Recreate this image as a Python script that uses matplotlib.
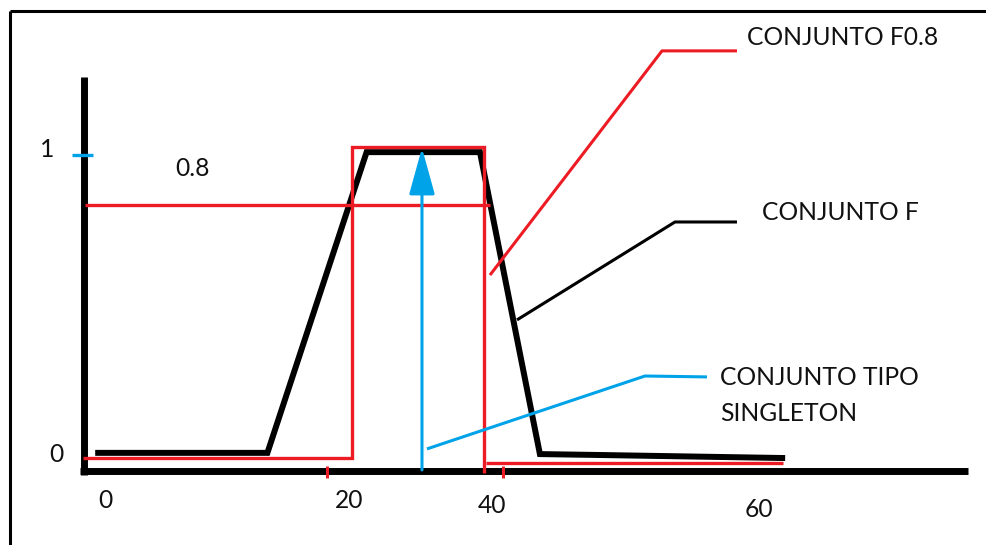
import matplotlib
matplotlib.use("Agg")
import matplotlib.pyplot as plt
from matplotlib.lines import Line2D

# ---- data (universe value u, membership mu) ----
# Fuzzy set F (trapezoid, hand drawn)
f_x = [-0.9, 14.9, 24.0, 34.4, 39.9, 45.4, 62.4]
f_mu = [0.007, 0.007, 0.993, 0.993, 0.003, 0.0, -0.010]

# Crisp alpha-cut set F0.8
f08_x = [-2.0, 22.66, 22.66, 34.77, 34.77]
f08_mu = [-0.010, -0.010, 1.010, 1.010, -0.059]
f08_tail_x = [34.95, 62.2]
f08_tail_mu = [-0.026, -0.026]

# alpha level line 0.8
alpha_x = [-1.83, 35.32]
alpha_mu = [0.82, 0.82]

# singleton
singleton_x = 29.08
singleton_mu = [-0.049, 1.007]

# leader lines of the labels
lead_f08_x = [35.32, 51.10, 57.98]
lead_f08_mu = [0.590, 1.325, 1.325]
lead_f_x = [37.80, 52.29, 57.98]
lead_f_mu = [0.443, 0.764, 0.764]
lead_s_x = [29.54, 49.54, 55.23]
lead_s_mu = [0.020, 0.259, 0.256]

# hand drawn axes
yaxis_x = [-1.93, -1.93]
yaxis_mu = [1.239, -0.066]
xaxis_x = [-2.29, 79.17]
xaxis_mu = [-0.052, -0.052]
red_ticks_x = [20.37, 36.51]
red_tick_mu = [-0.036, -0.075]
one_tick_x = [-3.03, -1.10]
one_tick_mu = [0.9836, 0.9836]

# labels
x_tick_labels = ["0", "20", "40", "60"]
x_tick_pos = [0.05, 22.39, 35.46, 60.0]
x_tick_base = [-0.174, -0.174, -0.190, -0.203]

RED = "#ED1C24"
BLUE = "#00A2E8"
TXT = "#111111"
FONT = "Lato"
FS = 17.7

fig = plt.figure(figsize=(9.87, 5.45), dpi=100)
ax = fig.add_axes([0, 0, 1, 1])
ax.set_xlim(-105 / 10.9, (987 - 105) / 10.9)
ax.set_ylim((455 - 545) / 305, 455 / 305)
ax.axis("off")

# frame (top and left border)
fig.add_artist(Line2D([10 / 987, 1.0], [1 - 11 / 545, 1 - 11 / 545], color="black", lw=2.2,
                      transform=fig.transFigure, solid_capstyle="butt"))
fig.add_artist(Line2D([10 / 987, 10 / 987], [0, 1 - 11 / 545], color="black", lw=2.2,
                      transform=fig.transFigure, solid_capstyle="butt"))

# axes
ax.plot(yaxis_x, yaxis_mu, color="black", lw=5, solid_capstyle="butt")
ax.plot(xaxis_x, xaxis_mu, color="black", lw=5, solid_capstyle="butt")
for tx in red_ticks_x:
    ax.plot([tx, tx], red_tick_mu, color=RED, lw=2.2, solid_capstyle="butt")
ax.plot(one_tick_x, one_tick_mu, color=BLUE, lw=2.4, solid_capstyle="butt")

# fuzzy set F
ax.plot(f_x, f_mu, color="black", lw=4.3, solid_joinstyle="miter", solid_capstyle="butt")
# crisp set F0.8
ax.plot(f08_x, f08_mu, color=RED, lw=2.4, solid_joinstyle="miter", solid_capstyle="butt")
ax.plot(f08_tail_x, f08_tail_mu, color=RED, lw=2.4, solid_capstyle="butt")
ax.plot(alpha_x, alpha_mu, color=RED, lw=2.4, solid_capstyle="butt")

# singleton arrow
ax.annotate("", xy=(singleton_x, singleton_mu[1]), xytext=(singleton_x, singleton_mu[0]),
            arrowprops=dict(arrowstyle="-|>,head_length=2.9,head_width=0.8",
                            mutation_scale=10, color=BLUE, lw=2.2,
                            shrinkA=0, shrinkB=0))

# leaders
ax.plot(lead_f08_x, lead_f08_mu, color=RED, lw=2.2, solid_capstyle="butt")
ax.plot(lead_f_x, lead_f_mu, color="black", lw=2.2, solid_capstyle="butt")
ax.plot(lead_s_x, lead_s_mu, color=BLUE, lw=2.2, solid_capstyle="butt")

# label texts
kw = dict(fontfamily=FONT, fontsize=FS, color=TXT, va="baseline")
ax.text(58.90, 1.3443, "CONJUNTO F0.8", ha="left", **kw)
ax.text(60.28, 0.7705, "CONJUNTO F", ha="left", **kw)
ax.text(56.42, 0.2295, "CONJUNTO TIPO", ha="left", **kw)
ax.text(56.42, 0.1115, "SINGLETON", ha="left", **kw)

ax.text(-5.28, 0.977, "1", ha="center", **kw)
ax.text(8.07, 0.9148, "0.8", ha="center", **kw)
ax.text(-4.50, -0.023, "0", ha="center", **kw)
for lab, px, pb in zip(x_tick_labels, x_tick_pos, x_tick_base):
    ax.text(px, pb, lab, ha="center", **kw)

fig.savefig("out.png", dpi=100, facecolor="white")
